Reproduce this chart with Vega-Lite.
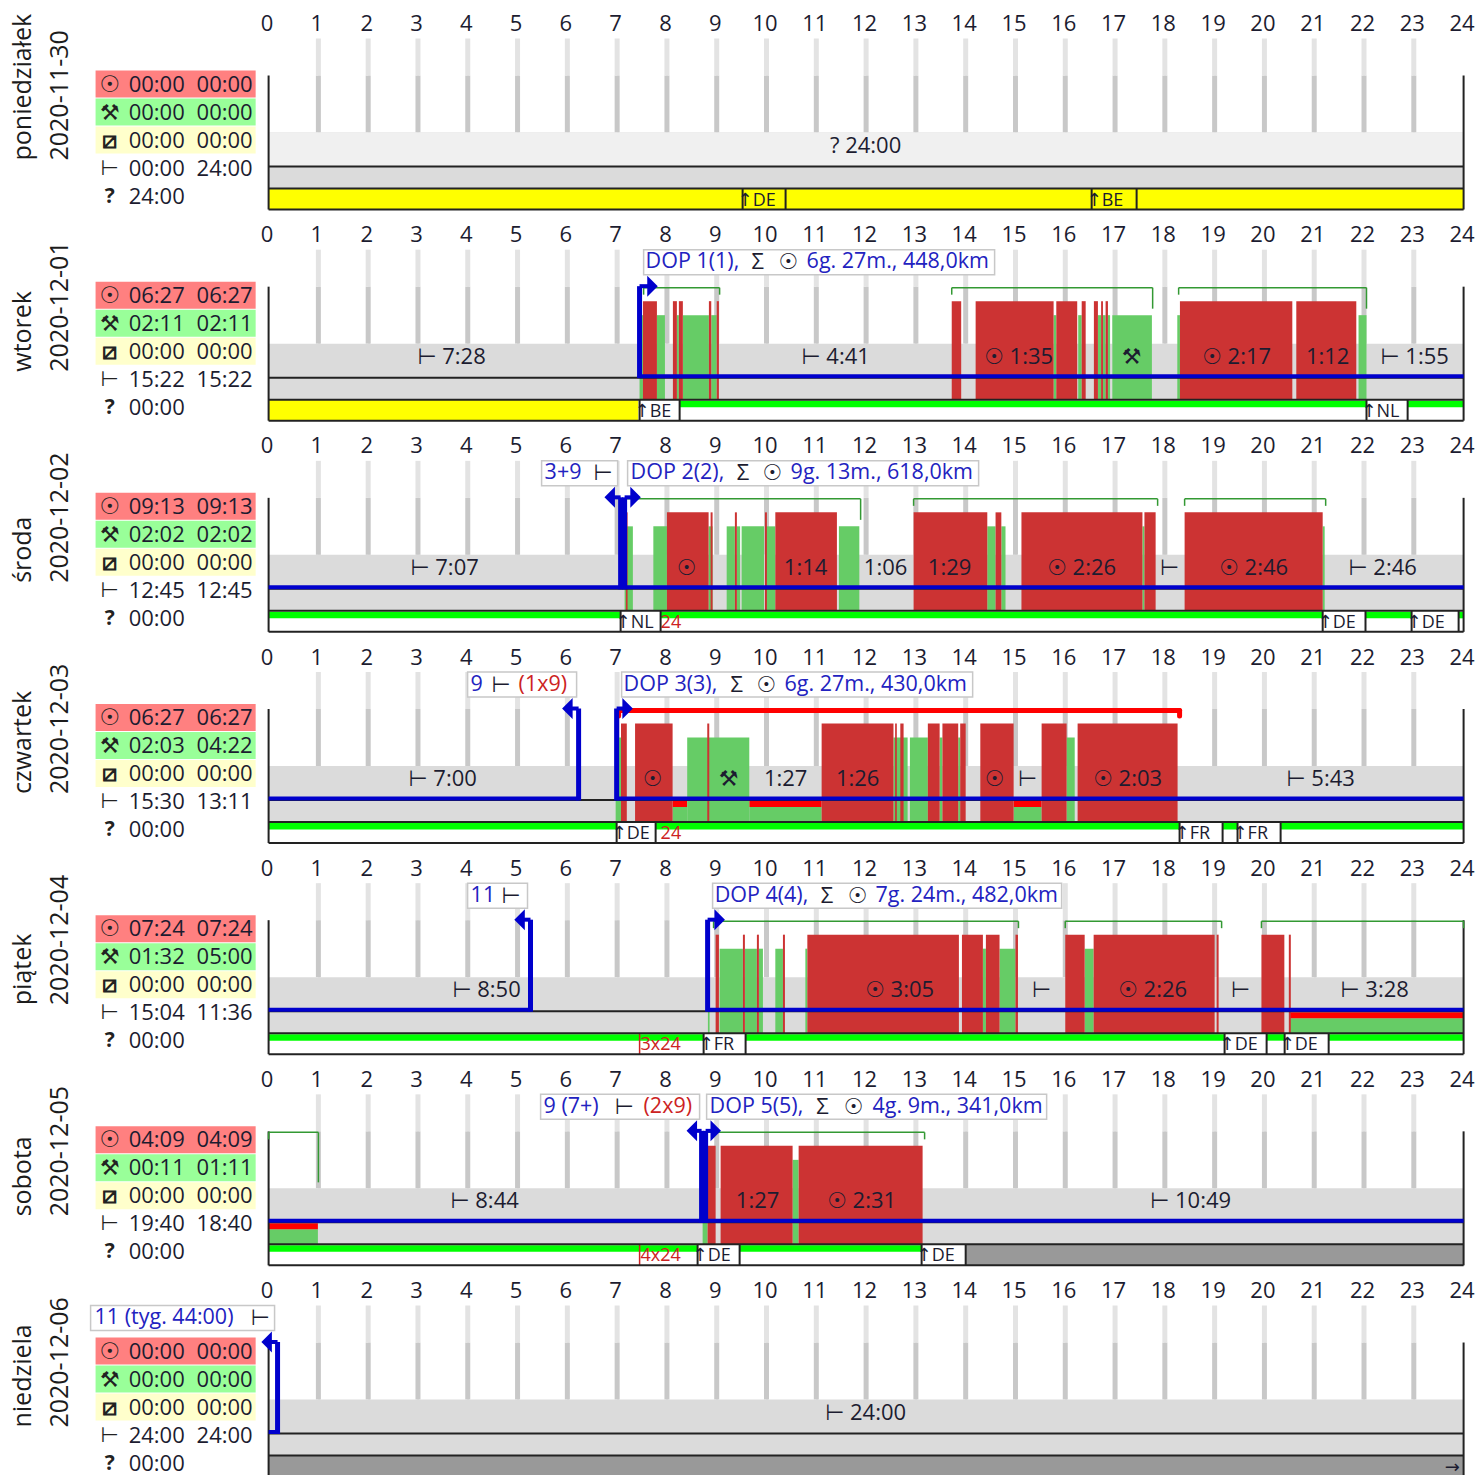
{"$schema":"https://vega.github.io/schema/vega-lite/v6.json","padding":{"left":10.6,"top":12.5,"right":0,"bottom":0},"background":"white","bounds":"flush","spacing":40.17,"facet":{"row":{"field":"day","type":"nominal","header":null}},"resolve":{"axis":{"x":"independent"}},
"config":{"view":{"stroke":null},"axisY":{"disable":true},"font":"Open Sans","text":{"font":"Open Sans, DejaVu Sans"}},
"data":{"values":[
{"day":"2020-11-30","kind":"day","name":"poniedziałek"},{"day":"2020-12-01","kind":"day","name":"wtorek"},{"day":"2020-12-02","kind":"day","name":"środa"},{"day":"2020-12-03","kind":"day","name":"czwartek"},{"day":"2020-12-04","kind":"day","name":"piątek"},{"day":"2020-12-05","kind":"day","name":"sobota"},{"day":"2020-12-06","kind":"day","name":"niedziela"},
{"day":"2020-11-30","kind":"hour","from":1},{"day":"2020-11-30","kind":"hour","from":2},{"day":"2020-11-30","kind":"hour","from":3},{"day":"2020-11-30","kind":"hour","from":4},{"day":"2020-11-30","kind":"hour","from":5},{"day":"2020-11-30","kind":"hour","from":6},{"day":"2020-11-30","kind":"hour","from":7},{"day":"2020-11-30","kind":"hour","from":8},{"day":"2020-11-30","kind":"hour","from":9},{"day":"2020-11-30","kind":"hour","from":10},{"day":"2020-11-30","kind":"hour","from":11},{"day":"2020-11-30","kind":"hour","from":12},{"day":"2020-11-30","kind":"hour","from":13},{"day":"2020-11-30","kind":"hour","from":14},{"day":"2020-11-30","kind":"hour","from":15},{"day":"2020-11-30","kind":"hour","from":16},{"day":"2020-11-30","kind":"hour","from":17},{"day":"2020-11-30","kind":"hour","from":18},{"day":"2020-11-30","kind":"hour","from":19},{"day":"2020-11-30","kind":"hour","from":20},{"day":"2020-11-30","kind":"hour","from":21},{"day":"2020-11-30","kind":"hour","from":22},{"day":"2020-11-30","kind":"hour","from":23},
{"day":"2020-12-01","kind":"hour","from":1},{"day":"2020-12-01","kind":"hour","from":2},{"day":"2020-12-01","kind":"hour","from":3},{"day":"2020-12-01","kind":"hour","from":4},{"day":"2020-12-01","kind":"hour","from":5},{"day":"2020-12-01","kind":"hour","from":6},{"day":"2020-12-01","kind":"hour","from":7},{"day":"2020-12-01","kind":"hour","from":8},{"day":"2020-12-01","kind":"hour","from":9},{"day":"2020-12-01","kind":"hour","from":10},{"day":"2020-12-01","kind":"hour","from":11},{"day":"2020-12-01","kind":"hour","from":12},{"day":"2020-12-01","kind":"hour","from":13},{"day":"2020-12-01","kind":"hour","from":14},{"day":"2020-12-01","kind":"hour","from":15},{"day":"2020-12-01","kind":"hour","from":16},{"day":"2020-12-01","kind":"hour","from":17},{"day":"2020-12-01","kind":"hour","from":18},{"day":"2020-12-01","kind":"hour","from":19},{"day":"2020-12-01","kind":"hour","from":20},{"day":"2020-12-01","kind":"hour","from":21},{"day":"2020-12-01","kind":"hour","from":22},{"day":"2020-12-01","kind":"hour","from":23},
{"day":"2020-12-02","kind":"hour","from":1},{"day":"2020-12-02","kind":"hour","from":2},{"day":"2020-12-02","kind":"hour","from":3},{"day":"2020-12-02","kind":"hour","from":4},{"day":"2020-12-02","kind":"hour","from":5},{"day":"2020-12-02","kind":"hour","from":6},{"day":"2020-12-02","kind":"hour","from":7},{"day":"2020-12-02","kind":"hour","from":8},{"day":"2020-12-02","kind":"hour","from":9},{"day":"2020-12-02","kind":"hour","from":10},{"day":"2020-12-02","kind":"hour","from":11},{"day":"2020-12-02","kind":"hour","from":12},{"day":"2020-12-02","kind":"hour","from":13},{"day":"2020-12-02","kind":"hour","from":14},{"day":"2020-12-02","kind":"hour","from":15},{"day":"2020-12-02","kind":"hour","from":16},{"day":"2020-12-02","kind":"hour","from":17},{"day":"2020-12-02","kind":"hour","from":18},{"day":"2020-12-02","kind":"hour","from":19},{"day":"2020-12-02","kind":"hour","from":20},{"day":"2020-12-02","kind":"hour","from":21},{"day":"2020-12-02","kind":"hour","from":22},{"day":"2020-12-02","kind":"hour","from":23},
{"day":"2020-12-03","kind":"hour","from":1},{"day":"2020-12-03","kind":"hour","from":2},{"day":"2020-12-03","kind":"hour","from":3},{"day":"2020-12-03","kind":"hour","from":4},{"day":"2020-12-03","kind":"hour","from":5},{"day":"2020-12-03","kind":"hour","from":6},{"day":"2020-12-03","kind":"hour","from":7},{"day":"2020-12-03","kind":"hour","from":8},{"day":"2020-12-03","kind":"hour","from":9},{"day":"2020-12-03","kind":"hour","from":10},{"day":"2020-12-03","kind":"hour","from":11},{"day":"2020-12-03","kind":"hour","from":12},{"day":"2020-12-03","kind":"hour","from":13},{"day":"2020-12-03","kind":"hour","from":14},{"day":"2020-12-03","kind":"hour","from":15},{"day":"2020-12-03","kind":"hour","from":16},{"day":"2020-12-03","kind":"hour","from":17},{"day":"2020-12-03","kind":"hour","from":18},{"day":"2020-12-03","kind":"hour","from":19},{"day":"2020-12-03","kind":"hour","from":20},{"day":"2020-12-03","kind":"hour","from":21},{"day":"2020-12-03","kind":"hour","from":22},{"day":"2020-12-03","kind":"hour","from":23},
{"day":"2020-12-04","kind":"hour","from":1},{"day":"2020-12-04","kind":"hour","from":2},{"day":"2020-12-04","kind":"hour","from":3},{"day":"2020-12-04","kind":"hour","from":4},{"day":"2020-12-04","kind":"hour","from":5},{"day":"2020-12-04","kind":"hour","from":6},{"day":"2020-12-04","kind":"hour","from":7},{"day":"2020-12-04","kind":"hour","from":8},{"day":"2020-12-04","kind":"hour","from":9},{"day":"2020-12-04","kind":"hour","from":10},{"day":"2020-12-04","kind":"hour","from":11},{"day":"2020-12-04","kind":"hour","from":12},{"day":"2020-12-04","kind":"hour","from":13},{"day":"2020-12-04","kind":"hour","from":14},{"day":"2020-12-04","kind":"hour","from":15},{"day":"2020-12-04","kind":"hour","from":16},{"day":"2020-12-04","kind":"hour","from":17},{"day":"2020-12-04","kind":"hour","from":18},{"day":"2020-12-04","kind":"hour","from":19},{"day":"2020-12-04","kind":"hour","from":20},{"day":"2020-12-04","kind":"hour","from":21},{"day":"2020-12-04","kind":"hour","from":22},{"day":"2020-12-04","kind":"hour","from":23},
{"day":"2020-12-05","kind":"hour","from":1},{"day":"2020-12-05","kind":"hour","from":2},{"day":"2020-12-05","kind":"hour","from":3},{"day":"2020-12-05","kind":"hour","from":4},{"day":"2020-12-05","kind":"hour","from":5},{"day":"2020-12-05","kind":"hour","from":6},{"day":"2020-12-05","kind":"hour","from":7},{"day":"2020-12-05","kind":"hour","from":8},{"day":"2020-12-05","kind":"hour","from":9},{"day":"2020-12-05","kind":"hour","from":10},{"day":"2020-12-05","kind":"hour","from":11},{"day":"2020-12-05","kind":"hour","from":12},{"day":"2020-12-05","kind":"hour","from":13},{"day":"2020-12-05","kind":"hour","from":14},{"day":"2020-12-05","kind":"hour","from":15},{"day":"2020-12-05","kind":"hour","from":16},{"day":"2020-12-05","kind":"hour","from":17},{"day":"2020-12-05","kind":"hour","from":18},{"day":"2020-12-05","kind":"hour","from":19},{"day":"2020-12-05","kind":"hour","from":20},{"day":"2020-12-05","kind":"hour","from":21},{"day":"2020-12-05","kind":"hour","from":22},{"day":"2020-12-05","kind":"hour","from":23},
{"day":"2020-12-06","kind":"hour","from":1},{"day":"2020-12-06","kind":"hour","from":2},{"day":"2020-12-06","kind":"hour","from":3},{"day":"2020-12-06","kind":"hour","from":4},{"day":"2020-12-06","kind":"hour","from":5},{"day":"2020-12-06","kind":"hour","from":6},{"day":"2020-12-06","kind":"hour","from":7},{"day":"2020-12-06","kind":"hour","from":8},{"day":"2020-12-06","kind":"hour","from":9},{"day":"2020-12-06","kind":"hour","from":10},{"day":"2020-12-06","kind":"hour","from":11},{"day":"2020-12-06","kind":"hour","from":12},{"day":"2020-12-06","kind":"hour","from":13},{"day":"2020-12-06","kind":"hour","from":14},{"day":"2020-12-06","kind":"hour","from":15},{"day":"2020-12-06","kind":"hour","from":16},{"day":"2020-12-06","kind":"hour","from":17},{"day":"2020-12-06","kind":"hour","from":18},{"day":"2020-12-06","kind":"hour","from":19},{"day":"2020-12-06","kind":"hour","from":20},{"day":"2020-12-06","kind":"hour","from":21},{"day":"2020-12-06","kind":"hour","from":22},{"day":"2020-12-06","kind":"hour","from":23},
{"day":"2020-11-30","kind":"stat","lane":"drive","icon":"☉","first":"00:00","second":"00:00"},{"day":"2020-11-30","kind":"stat","lane":"work","icon":"⚒","first":"00:00","second":"00:00"},{"day":"2020-11-30","kind":"stat","lane":"avail","icon":"⧄","first":"00:00","second":"00:00"},{"day":"2020-11-30","kind":"stat","lane":"rest","icon":"⊢","first":"00:00","second":"24:00"},{"day":"2020-11-30","kind":"stat","lane":"unknown","icon":"?","first":"24:00","second":""},
{"day":"2020-12-01","kind":"stat","lane":"drive","icon":"☉","first":"06:27","second":"06:27"},{"day":"2020-12-01","kind":"stat","lane":"work","icon":"⚒","first":"02:11","second":"02:11"},{"day":"2020-12-01","kind":"stat","lane":"avail","icon":"⧄","first":"00:00","second":"00:00"},{"day":"2020-12-01","kind":"stat","lane":"rest","icon":"⊢","first":"15:22","second":"15:22"},{"day":"2020-12-01","kind":"stat","lane":"unknown","icon":"?","first":"00:00","second":""},
{"day":"2020-12-02","kind":"stat","lane":"drive","icon":"☉","first":"09:13","second":"09:13"},{"day":"2020-12-02","kind":"stat","lane":"work","icon":"⚒","first":"02:02","second":"02:02"},{"day":"2020-12-02","kind":"stat","lane":"avail","icon":"⧄","first":"00:00","second":"00:00"},{"day":"2020-12-02","kind":"stat","lane":"rest","icon":"⊢","first":"12:45","second":"12:45"},{"day":"2020-12-02","kind":"stat","lane":"unknown","icon":"?","first":"00:00","second":""},
{"day":"2020-12-03","kind":"stat","lane":"drive","icon":"☉","first":"06:27","second":"06:27"},{"day":"2020-12-03","kind":"stat","lane":"work","icon":"⚒","first":"02:03","second":"04:22"},{"day":"2020-12-03","kind":"stat","lane":"avail","icon":"⧄","first":"00:00","second":"00:00"},{"day":"2020-12-03","kind":"stat","lane":"rest","icon":"⊢","first":"15:30","second":"13:11"},{"day":"2020-12-03","kind":"stat","lane":"unknown","icon":"?","first":"00:00","second":""},
{"day":"2020-12-04","kind":"stat","lane":"drive","icon":"☉","first":"07:24","second":"07:24"},{"day":"2020-12-04","kind":"stat","lane":"work","icon":"⚒","first":"01:32","second":"05:00"},{"day":"2020-12-04","kind":"stat","lane":"avail","icon":"⧄","first":"00:00","second":"00:00"},{"day":"2020-12-04","kind":"stat","lane":"rest","icon":"⊢","first":"15:04","second":"11:36"},{"day":"2020-12-04","kind":"stat","lane":"unknown","icon":"?","first":"00:00","second":""},
{"day":"2020-12-05","kind":"stat","lane":"drive","icon":"☉","first":"04:09","second":"04:09"},{"day":"2020-12-05","kind":"stat","lane":"work","icon":"⚒","first":"00:11","second":"01:11"},{"day":"2020-12-05","kind":"stat","lane":"avail","icon":"⧄","first":"00:00","second":"00:00"},{"day":"2020-12-05","kind":"stat","lane":"rest","icon":"⊢","first":"19:40","second":"18:40"},{"day":"2020-12-05","kind":"stat","lane":"unknown","icon":"?","first":"00:00","second":""},
{"day":"2020-12-06","kind":"stat","lane":"drive","icon":"☉","first":"00:00","second":"00:00"},{"day":"2020-12-06","kind":"stat","lane":"work","icon":"⚒","first":"00:00","second":"00:00"},{"day":"2020-12-06","kind":"stat","lane":"avail","icon":"⧄","first":"00:00","second":"00:00"},{"day":"2020-12-06","kind":"stat","lane":"rest","icon":"⊢","first":"24:00","second":"24:00"},{"day":"2020-12-06","kind":"stat","lane":"unknown","icon":"?","first":"00:00","second":""},

{"day":"2020-12-01","kind":"drive","from":7.518,"to":7.799},{"day":"2020-12-01","kind":"drive","from":8.12,"to":8.2},{"day":"2020-12-01","kind":"drive","from":8.24,"to":8.32},{"day":"2020-12-01","kind":"drive","from":8.843,"to":8.89},{"day":"2020-12-01","kind":"drive","from":9.0,"to":9.044},{"day":"2020-12-01","kind":"drive","from":13.72,"to":13.91},{"day":"2020-12-01","kind":"drive","from":14.2,"to":15.766},{"day":"2020-12-01","kind":"drive","from":15.82,"to":16.24},{"day":"2020-12-01","kind":"drive","from":16.33,"to":16.41},{"day":"2020-12-01","kind":"drive","from":16.575,"to":16.656},{"day":"2020-12-01","kind":"drive","from":16.72,"to":16.757},{"day":"2020-12-01","kind":"drive","from":16.81,"to":16.857},{"day":"2020-12-01","kind":"drive","from":18.303,"to":20.56},{"day":"2020-12-01","kind":"drive","from":20.64,"to":21.845},
{"day":"2020-12-01","kind":"work","from":7.45,"to":7.518},{"day":"2020-12-01","kind":"work","from":7.799,"to":7.96},{"day":"2020-12-01","kind":"work","from":8.2,"to":8.24},{"day":"2020-12-01","kind":"work","from":8.32,"to":8.843},{"day":"2020-12-01","kind":"work","from":8.89,"to":9.0},{"day":"2020-12-01","kind":"work","from":15.766,"to":15.82},{"day":"2020-12-01","kind":"work","from":16.26,"to":16.33},{"day":"2020-12-01","kind":"work","from":16.656,"to":16.72},{"day":"2020-12-01","kind":"work","from":16.757,"to":16.81},{"day":"2020-12-01","kind":"work","from":16.857,"to":16.9},{"day":"2020-12-01","kind":"work","from":16.945,"to":17.74},{"day":"2020-12-01","kind":"work","from":18.25,"to":18.303},{"day":"2020-12-01","kind":"work","from":21.89,"to":22.05},

{"day":"2020-12-02","kind":"drive","from":7.176,"to":7.21},{"day":"2020-12-02","kind":"drive","from":8.0,"to":8.837},{"day":"2020-12-02","kind":"drive","from":8.877,"to":8.917},{"day":"2020-12-02","kind":"drive","from":9.365,"to":9.405},{"day":"2020-12-02","kind":"drive","from":9.968,"to":10.008},{"day":"2020-12-02","kind":"drive","from":10.177,"to":11.414},{"day":"2020-12-02","kind":"drive","from":12.954,"to":14.434},{"day":"2020-12-02","kind":"drive","from":14.6,"to":14.716},{"day":"2020-12-02","kind":"drive","from":15.12,"to":17.55},{"day":"2020-12-02","kind":"drive","from":17.59,"to":17.815},{"day":"2020-12-02","kind":"drive","from":18.397,"to":21.17},
{"day":"2020-12-02","kind":"work","from":7.15,"to":7.316},{"day":"2020-12-02","kind":"work","from":7.727,"to":8.0},{"day":"2020-12-02","kind":"work","from":8.837,"to":8.917},{"day":"2020-12-02","kind":"work","from":9.2,"to":9.365},{"day":"2020-12-02","kind":"work","from":9.405,"to":9.47},{"day":"2020-12-02","kind":"work","from":9.5,"to":9.95},{"day":"2020-12-02","kind":"work","from":9.97,"to":10.177},{"day":"2020-12-02","kind":"work","from":11.454,"to":11.864},{"day":"2020-12-02","kind":"work","from":14.434,"to":14.6},{"day":"2020-12-02","kind":"work","from":14.716,"to":14.8},{"day":"2020-12-02","kind":"work","from":17.55,"to":17.59},{"day":"2020-12-02","kind":"work","from":21.17,"to":21.21},

{"day":"2020-12-03","kind":"drive","from":7.078,"to":7.194},{"day":"2020-12-03","kind":"drive","from":7.36,"to":8.114},{"day":"2020-12-03","kind":"drive","from":8.81,"to":8.85},{"day":"2020-12-03","kind":"drive","from":11.107,"to":12.55},{"day":"2020-12-03","kind":"drive","from":12.583,"to":12.617},{"day":"2020-12-03","kind":"drive","from":12.687,"to":12.753},{"day":"2020-12-03","kind":"drive","from":13.24,"to":13.477},{"day":"2020-12-03","kind":"drive","from":13.533,"to":13.85},{"day":"2020-12-03","kind":"drive","from":13.89,"to":14.0},{"day":"2020-12-03","kind":"drive","from":14.294,"to":14.963},{"day":"2020-12-03","kind":"drive","from":15.525,"to":16.027},{"day":"2020-12-03","kind":"drive","from":16.248,"to":18.256},
{"day":"2020-12-03","kind":"work","from":6.97,"to":7.078},{"day":"2020-12-03","kind":"work","from":8.407,"to":9.654},{"day":"2020-12-03","kind":"work","from":12.55,"to":12.834},{"day":"2020-12-03","kind":"work","from":12.88,"to":13.24},{"day":"2020-12-03","kind":"work","from":13.477,"to":13.533},{"day":"2020-12-03","kind":"work","from":13.85,"to":13.89},{"day":"2020-12-03","kind":"work","from":16.027,"to":16.19},
{"day":"2020-12-03","kind":"low","from":8.114,"to":8.407},{"day":"2020-12-03","kind":"low","from":9.654,"to":11.107},{"day":"2020-12-03","kind":"low","from":14.963,"to":15.525},

{"day":"2020-12-04","kind":"drive","from":8.978,"to":9.044},{"day":"2020-12-04","kind":"drive","from":9.526,"to":9.566},{"day":"2020-12-04","kind":"drive","from":9.807,"to":9.847},{"day":"2020-12-04","kind":"drive","from":10.33,"to":10.37},{"day":"2020-12-04","kind":"drive","from":10.82,"to":13.864},{"day":"2020-12-04","kind":"drive","from":13.925,"to":14.346},{"day":"2020-12-04","kind":"drive","from":14.406,"to":14.68},{"day":"2020-12-04","kind":"drive","from":15.0,"to":15.05},{"day":"2020-12-04","kind":"drive","from":16.0,"to":16.39},{"day":"2020-12-04","kind":"drive","from":16.57,"to":19.0},{"day":"2020-12-04","kind":"drive","from":19.04,"to":19.08},{"day":"2020-12-04","kind":"drive","from":19.94,"to":20.4},{"day":"2020-12-04","kind":"drive","from":20.49,"to":20.53},
{"day":"2020-12-04","kind":"work","from":8.823,"to":8.857},{"day":"2020-12-04","kind":"work","from":9.058,"to":9.526},{"day":"2020-12-04","kind":"work","from":9.566,"to":9.807},{"day":"2020-12-04","kind":"work","from":9.847,"to":9.928},{"day":"2020-12-04","kind":"work","from":10.177,"to":10.33},{"day":"2020-12-04","kind":"work","from":10.78,"to":10.82},{"day":"2020-12-04","kind":"work","from":14.346,"to":14.406},{"day":"2020-12-04","kind":"work","from":14.68,"to":15.0},{"day":"2020-12-04","kind":"work","from":16.39,"to":16.57},
{"day":"2020-12-04","kind":"low","from":20.5,"to":24},

{"day":"2020-12-05","kind":"drive","from":8.817,"to":8.978},{"day":"2020-12-05","kind":"drive","from":9.078,"to":10.524},{"day":"2020-12-05","kind":"drive","from":10.645,"to":13.135},
{"day":"2020-12-05","kind":"work","from":8.717,"to":8.817},{"day":"2020-12-05","kind":"work","from":10.524,"to":10.645},
{"day":"2020-12-05","kind":"low","from":0,"to":0.99},

{"day":"2020-11-30","kind":"yellow","from":0,"to":24},{"day":"2020-12-01","kind":"yellow","from":0,"to":7.43},{"day":"2020-12-01","kind":"white","from":7.43,"to":24},{"day":"2020-12-02","kind":"white","from":0,"to":24},{"day":"2020-12-03","kind":"white","from":0,"to":24},{"day":"2020-12-04","kind":"white","from":0,"to":24},{"day":"2020-12-05","kind":"white","from":0,"to":14},{"day":"2020-12-05","kind":"dark","from":14,"to":24},{"day":"2020-12-06","kind":"dark","from":0,"to":24},
{"day":"2020-12-01","kind":"strip","from":8.255,"to":22.05},{"day":"2020-12-01","kind":"strip","from":22.876,"to":24},
{"day":"2020-12-02","kind":"strip","from":0,"to":7.07},{"day":"2020-12-02","kind":"strip","from":7.873,"to":21.17},{"day":"2020-12-02","kind":"strip","from":22.03,"to":22.956},{"day":"2020-12-02","kind":"strip","from":23.9,"to":24},
{"day":"2020-12-03","kind":"strip","from":0,"to":6.99},{"day":"2020-12-03","kind":"strip","from":7.773,"to":18.296},{"day":"2020-12-03","kind":"strip","from":19.16,"to":19.46},{"day":"2020-12-03","kind":"strip","from":20.325,"to":24},
{"day":"2020-12-04","kind":"strip","from":0,"to":8.737},{"day":"2020-12-04","kind":"strip","from":9.58,"to":19.2},{"day":"2020-12-04","kind":"strip","from":20.044,"to":20.406},{"day":"2020-12-04","kind":"strip","from":21.29,"to":24},
{"day":"2020-12-05","kind":"strip","from":0,"to":8.616},{"day":"2020-12-05","kind":"strip","from":9.46,"to":13.115},

{"day":"2020-11-30","kind":"flag","from":9.52,"to":10.383,"text":"↑DE"},{"day":"2020-11-30","kind":"flag","from":16.53,"to":17.433,"text":"↑BE"},
{"day":"2020-12-01","kind":"flag","from":7.451,"to":8.255,"text":"↑BE"},{"day":"2020-12-01","kind":"flag","from":22.05,"to":22.876,"text":"↑NL"},
{"day":"2020-12-02","kind":"flag","from":7.07,"to":7.873,"text":"↑NL"},{"day":"2020-12-02","kind":"flag","from":21.17,"to":22.03,"text":"↑DE"},{"day":"2020-12-02","kind":"flag","from":22.956,"to":23.9,"text":"↑DE"},
{"day":"2020-12-03","kind":"flag","from":6.99,"to":7.773,"text":"↑DE"},{"day":"2020-12-03","kind":"flag","from":18.296,"to":19.16,"text":"↑FR"},{"day":"2020-12-03","kind":"flag","from":19.46,"to":20.325,"text":"↑FR"},
{"day":"2020-12-04","kind":"flag","from":8.737,"to":9.58,"text":"↑FR"},{"day":"2020-12-04","kind":"flag","from":19.2,"to":20.044,"text":"↑DE"},{"day":"2020-12-04","kind":"flag","from":20.406,"to":21.29,"text":"↑DE"},
{"day":"2020-12-05","kind":"flag","from":8.616,"to":9.46,"text":"↑DE"},{"day":"2020-12-05","kind":"flag","from":13.115,"to":14.0,"text":"↑DE"},
{"day":"2020-12-06","kind":"end","from":23.72,"text":"→"},
{"day":"2020-12-02","kind":"redflag","from":7.873,"text":"24"},{"day":"2020-12-03","kind":"redflag","from":7.873,"text":"24"},{"day":"2020-12-04","kind":"redflag","from":7.47,"text":"3x24"},{"day":"2020-12-05","kind":"redflag","from":7.47,"text":"4x24"},
{"day":"2020-12-04","kind":"redline","from":7.451},{"day":"2020-12-05","kind":"redline","from":7.451},

{"day":"2020-12-01","kind":"bracket","from":7.532,"to":9.058,"drop":"short"},{"day":"2020-12-01","kind":"bracket","from":13.72,"to":17.755,"drop":"long"},{"day":"2020-12-01","kind":"bracket","from":18.277,"to":22.05,"drop":"long"},
{"day":"2020-12-02","kind":"bracket","from":7.17,"to":11.89,"drop":"long"},{"day":"2020-12-02","kind":"bracket","from":12.954,"to":17.855,"drop":"short"},{"day":"2020-12-02","kind":"bracket","from":18.397,"to":21.23,"drop":"short"},
{"day":"2020-12-04","kind":"bracket","from":8.937,"to":15.06,"drop":"short"},{"day":"2020-12-04","kind":"bracket","from":16.0,"to":19.14,"drop":"short"},{"day":"2020-12-04","kind":"bracket","from":19.94,"to":24,"drop":"short"},
{"day":"2020-12-05","kind":"bracket","from":0,"to":1.0,"drop":"tall"},{"day":"2020-12-05","kind":"bracket","from":8.74,"to":13.175,"drop":"short"},
{"day":"2020-12-03","kind":"redbracket","from":7.03,"to":18.296},

{"day":"2020-12-01","kind":"box","from":7.532,"to":14.581},{"day":"2020-12-02","kind":"box","from":5.483,"to":7.01},{"day":"2020-12-02","kind":"box","from":7.21,"to":14.26},{"day":"2020-12-03","kind":"box","from":3.997,"to":6.186},{"day":"2020-12-03","kind":"box","from":7.09,"to":14.14},{"day":"2020-12-04","kind":"box","from":3.997,"to":5.2},{"day":"2020-12-04","kind":"box","from":8.917,"to":15.927},{"day":"2020-12-05","kind":"box","from":5.463,"to":8.656},{"day":"2020-12-05","kind":"box","from":8.797,"to":15.626},{"day":"2020-12-06","kind":"box","from":-3.575,"to":0.12},
{"day":"2020-12-01","kind":"top","from":7.572,"text":"DOP 1(1),","tone":"blue"},{"day":"2020-12-01","kind":"top","from":9.7,"text":"Σ","tone":"ink"},{"day":"2020-12-01","kind":"top","from":10.243,"text":"☉","tone":"ink"},{"day":"2020-12-01","kind":"top","from":10.805,"text":"6g. 27m., 448,0km","tone":"blue"},
{"day":"2020-12-02","kind":"top","from":5.543,"text":"3+9","tone":"blue"},{"day":"2020-12-02","kind":"top","from":6.527,"text":"⊢","tone":"ink"},{"day":"2020-12-02","kind":"top","from":7.27,"text":"DOP 2(2),","tone":"blue"},{"day":"2020-12-02","kind":"top","from":9.4,"text":"Σ","tone":"ink"},{"day":"2020-12-02","kind":"top","from":9.92,"text":"☉","tone":"ink"},{"day":"2020-12-02","kind":"top","from":10.484,"text":"9g. 13m., 618,0km","tone":"blue"},
{"day":"2020-12-03","kind":"top","from":4.057,"text":"9","tone":"blue"},{"day":"2020-12-03","kind":"top","from":4.479,"text":"⊢","tone":"ink"},{"day":"2020-12-03","kind":"top","from":5.02,"text":"(1x9)","tone":"red"},{"day":"2020-12-03","kind":"top","from":7.13,"text":"DOP 3(3),","tone":"blue"},{"day":"2020-12-03","kind":"top","from":9.279,"text":"Σ","tone":"ink"},{"day":"2020-12-03","kind":"top","from":9.8,"text":"☉","tone":"ink"},{"day":"2020-12-03","kind":"top","from":10.363,"text":"6g. 27m., 430,0km","tone":"blue"},
{"day":"2020-12-04","kind":"top","from":4.057,"text":"11","tone":"blue"},{"day":"2020-12-04","kind":"top","from":4.68,"text":"⊢","tone":"ink"},{"day":"2020-12-04","kind":"top","from":8.958,"text":"DOP 4(4),","tone":"blue"},{"day":"2020-12-04","kind":"top","from":11.087,"text":"Σ","tone":"ink"},{"day":"2020-12-04","kind":"top","from":11.63,"text":"☉","tone":"ink"},{"day":"2020-12-04","kind":"top","from":12.19,"text":"7g. 24m., 482,0km","tone":"blue"},
{"day":"2020-12-05","kind":"top","from":5.523,"text":"9 (7+)","tone":"blue"},{"day":"2020-12-05","kind":"top","from":6.95,"text":"⊢","tone":"ink"},{"day":"2020-12-05","kind":"top","from":7.53,"text":"(2x9)","tone":"red"},{"day":"2020-12-05","kind":"top","from":8.857,"text":"DOP 5(5),","tone":"blue"},{"day":"2020-12-05","kind":"top","from":11.0,"text":"Σ","tone":"ink"},{"day":"2020-12-05","kind":"top","from":11.55,"text":"☉","tone":"ink"},{"day":"2020-12-05","kind":"top","from":12.13,"text":"4g. 9m., 341,0km","tone":"blue"},
{"day":"2020-12-06","kind":"top","from":-3.495,"text":"11 (tyg. 44:00)","tone":"blue"},{"day":"2020-12-06","kind":"top","from":-0.36,"text":"⊢","tone":"ink"},

{"day":"2020-12-01","kind":"blue","from":7.45,"to":24},{"day":"2020-12-02","kind":"blue","from":0,"to":24},{"day":"2020-12-03","kind":"blue","from":0,"to":6.226},{"day":"2020-12-03","kind":"blue","from":6.99,"to":24},{"day":"2020-12-04","kind":"blue","from":0,"to":5.26},{"day":"2020-12-04","kind":"blue","from":8.817,"to":24},{"day":"2020-12-05","kind":"blue","from":0,"to":24},{"day":"2020-12-06","kind":"blue","from":0,"to":0.18},
{"day":"2020-12-01","kind":"arrow","from":7.45,"tip":7.71,"dir":"right"},{"day":"2020-12-02","kind":"arrow","from":7.07,"tip":6.85,"dir":"left"},{"day":"2020-12-02","kind":"arrow","from":7.15,"tip":7.37,"dir":"right"},{"day":"2020-12-03","kind":"arrow","from":6.226,"tip":6.0,"dir":"left"},{"day":"2020-12-03","kind":"arrow","from":6.99,"tip":7.21,"dir":"right"},{"day":"2020-12-04","kind":"arrow","from":5.26,"tip":5.04,"dir":"left"},{"day":"2020-12-04","kind":"arrow","from":8.817,"tip":9.06,"dir":"right"},{"day":"2020-12-05","kind":"arrow","from":8.696,"tip":8.5,"dir":"left"},{"day":"2020-12-05","kind":"arrow","from":8.777,"tip":8.98,"dir":"right"},{"day":"2020-12-06","kind":"arrow","from":0.18,"tip":-0.04,"dir":"left"},

{"day":"2020-11-30","kind":"gap","from":11.99,"text":"? 24:00"},
{"day":"2020-12-01","kind":"gap","from":3.675,"text":"⊢ 7:28"},{"day":"2020-12-01","kind":"gap","from":11.388,"text":"⊢ 4:41"},{"day":"2020-12-01","kind":"gap","from":15.063,"text":"☉ 1:35"},{"day":"2020-12-01","kind":"gap","from":17.333,"text":"⚒"},{"day":"2020-12-01","kind":"gap","from":19.442,"text":"☉ 2:17"},{"day":"2020-12-01","kind":"gap","from":21.27,"text":"1:12"},{"day":"2020-12-01","kind":"gap","from":23.017,"text":"⊢ 1:55"},
{"day":"2020-12-02","kind":"gap","from":3.535,"text":"⊢ 7:07"},{"day":"2020-12-02","kind":"gap","from":8.395,"text":"☉"},{"day":"2020-12-02","kind":"gap","from":10.785,"text":"1:14"},{"day":"2020-12-02","kind":"gap","from":12.392,"text":"1:06"},{"day":"2020-12-02","kind":"gap","from":13.677,"text":"1:29"},{"day":"2020-12-02","kind":"gap","from":16.328,"text":"☉ 2:26"},{"day":"2020-12-02","kind":"gap","from":18.096,"text":"⊢"},{"day":"2020-12-02","kind":"gap","from":19.783,"text":"☉ 2:46"},{"day":"2020-12-02","kind":"gap","from":22.374,"text":"⊢ 2:46"},
{"day":"2020-12-03","kind":"gap","from":3.495,"text":"⊢ 7:00"},{"day":"2020-12-03","kind":"gap","from":7.712,"text":"☉"},{"day":"2020-12-03","kind":"gap","from":9.239,"text":"⚒"},{"day":"2020-12-03","kind":"gap","from":10.384,"text":"1:27"},{"day":"2020-12-03","kind":"gap","from":11.83,"text":"1:26"},{"day":"2020-12-03","kind":"gap","from":14.581,"text":"☉"},{"day":"2020-12-03","kind":"gap","from":15.244,"text":"⊢"},{"day":"2020-12-03","kind":"gap","from":17.252,"text":"☉ 2:03"},{"day":"2020-12-03","kind":"gap","from":21.129,"text":"⊢ 5:43"},
{"day":"2020-12-04","kind":"gap","from":4.378,"text":"⊢ 8:50"},{"day":"2020-12-04","kind":"gap","from":12.673,"text":"☉ 3:05"},{"day":"2020-12-04","kind":"gap","from":15.525,"text":"⊢"},{"day":"2020-12-04","kind":"gap","from":17.755,"text":"☉ 2:26"},{"day":"2020-12-04","kind":"gap","from":19.522,"text":"⊢"},{"day":"2020-12-04","kind":"gap","from":22.213,"text":"⊢ 3:28"},
{"day":"2020-12-05","kind":"gap","from":4.338,"text":"⊢ 8:44"},{"day":"2020-12-05","kind":"gap","from":9.821,"text":"1:27"},{"day":"2020-12-05","kind":"gap","from":11.91,"text":"☉ 2:31"},{"day":"2020-12-05","kind":"gap","from":18.518,"text":"⊢ 10:49"},
{"day":"2020-12-06","kind":"gap","from":11.99,"text":"⊢ 24:00"}
]},
"spec":{"width":1195,"height":171,"layer":[
{"transform":[{"filter":"datum.kind=='day'"}],"mark":{"type":"rect","fill":"#fff","opacity":0.5},"encoding":{"x":{"datum":0,"type":"quantitative","scale":{"domain":[0,24],"nice":false,"zero":false},"axis":{"orient":"top","title":null,"values":[0,0.25,0.5,0.75,1,1.25,1.5,1.75,2,2.25,2.5,2.75,3,3.25,3.5,3.75,4,4.25,4.5,4.75,5,5.25,5.5,5.75,6,6.25,6.5,6.75,7,7.25,7.5,7.75,8,8.25,8.5,8.75,9,9.25,9.5,9.75,10,10.25,10.5,10.75,11,11.25,11.5,11.75,12,12.25,12.5,12.75,13,13.25,13.5,13.75,14,14.25,14.5,14.75,15,15.25,15.5,15.75,16,16.25,16.5,16.75,17,17.25,17.5,17.75,18,18.25,18.5,18.75,19,19.25,19.5,19.75,20,20.25,20.5,20.75,21,21.25,21.5,21.75,22,22.25,22.5,22.75,23,23.25,23.5,23.75,24],"grid":true,"gridColor":{"condition":{"test":"datum.value%24==0","value":"#ffffff"},"value":"#e2e2e2"},"gridWidth":2,"ticks":false,"domain":false,"labelExpr":"datum.value%1==0?datum.value:''","labelPadding":3,"labelFontSize":22,"labelFont":"Open Sans","labelColor":"#1c1c30","labelBound":false,"labelFlush":false,"labelOverlap":false,"labelOffset":-2}},"x2":{"datum":24},"y":{"datum":134,"type":"quantitative","scale":{"domain":[0,171],"nice":false,"zero":false}},"y2":{"datum":171}}},
{"transform":[{"filter":"datum.kind=='hour'"}],"mark":{"type":"rule","color":"#c8c8c8","strokeWidth":5},"encoding":{"x":{"field":"from","type":"quantitative"},"y":{"datum":134,"type":"quantitative"},"y2":{"datum":77}}},
{"transform":[{"filter":"datum.kind=='hour'"}],"mark":{"type":"rule","color":"#e3e3e3","strokeWidth":5},"encoding":{"x":{"field":"from","type":"quantitative"},"y":{"datum":171,"type":"quantitative"},"y2":{"datum":134}}},
{"transform":[{"filter":"datum.kind=='day'"}],"mark":{"type":"rect","fill":"#dbdbdb"},"encoding":{"x":{"datum":0,"type":"quantitative"},"x2":{"datum":24},"y":{"datum":77,"type":"quantitative"},"y2":{"datum":21}}},
{"transform":[{"filter":"datum.kind=='day'&&datum.day=='2020-11-30'"}],"mark":{"type":"rect","fill":"#f0f0f0"},"encoding":{"x":{"datum":0,"type":"quantitative"},"x2":{"datum":24},"y":{"datum":77,"type":"quantitative"},"y2":{"datum":43}}},
{"transform":[{"filter":"datum.kind=='low'"}],"mark":{"type":"rect","fill":"#66cc66"},"encoding":{"x":{"field":"from","type":"quantitative"},"x2":{"field":"to"},"y":{"datum":36,"type":"quantitative"},"y2":{"datum":21}}},
{"transform":[{"filter":"datum.kind=='low'"}],"mark":{"type":"rect","fill":"#ff0000"},"encoding":{"x":{"field":"from","type":"quantitative"},"x2":{"field":"to"},"y":{"datum":42,"type":"quantitative"},"y2":{"datum":36}}},
{"transform":[{"filter":"datum.kind=='work'"}],"mark":{"type":"rect","fill":"#66cc66"},"encoding":{"x":{"field":"from","type":"quantitative"},"x2":{"field":"to"},"y":{"datum":105.5,"type":"quantitative"},"y2":{"datum":21}}},
{"transform":[{"filter":"datum.kind=='drive'"}],"mark":{"type":"rect","fill":"#cc3333"},"encoding":{"x":{"field":"from","type":"quantitative"},"x2":{"field":"to"},"y":{"datum":119.5,"type":"quantitative"},"y2":{"datum":21}}},
{"transform":[{"filter":"datum.kind=='yellow'"}],"mark":{"type":"rect","fill":"#ffff00"},"encoding":{"x":{"field":"from","type":"quantitative"},"x2":{"field":"to"},"y":{"datum":21,"type":"quantitative"},"y2":{"datum":0}}},
{"transform":[{"filter":"datum.kind=='white'"}],"mark":{"type":"rect","fill":"#ffffff"},"encoding":{"x":{"field":"from","type":"quantitative"},"x2":{"field":"to"},"y":{"datum":21,"type":"quantitative"},"y2":{"datum":0}}},
{"transform":[{"filter":"datum.kind=='dark'"}],"mark":{"type":"rect","fill":"#999999"},"encoding":{"x":{"field":"from","type":"quantitative"},"x2":{"field":"to"},"y":{"datum":21,"type":"quantitative"},"y2":{"datum":0}}},
{"transform":[{"filter":"datum.kind=='strip'"}],"mark":{"type":"rect","fill":"#00ff00"},"encoding":{"x":{"field":"from","type":"quantitative"},"x2":{"field":"to"},"y":{"datum":20,"type":"quantitative"},"y2":{"datum":13.5}}},
{"transform":[{"filter":"datum.kind=='redline'"}],"mark":{"type":"rule","color":"#cc2222","strokeWidth":1.5},"encoding":{"x":{"field":"from","type":"quantitative"},"y":{"datum":21,"type":"quantitative"},"y2":{"datum":0}}},
{"transform":[{"filter":"datum.kind=='flag'"}],"mark":{"type":"rule","color":"#222","strokeWidth":2},"encoding":{"x":{"field":"from","type":"quantitative"},"y":{"datum":21,"type":"quantitative"},"y2":{"datum":0}}},
{"transform":[{"filter":"datum.kind=='flag'"}],"mark":{"type":"rule","color":"#222","strokeWidth":2},"encoding":{"x":{"field":"to","type":"quantitative"},"y":{"datum":21,"type":"quantitative"},"y2":{"datum":0}}},
{"transform":[{"filter":"datum.kind=='flag'||datum.kind=='end'"}],"mark":{"type":"text","fontSize":18,"align":"left","baseline":"middle","dx":-5,"dy":1,"color":"#1c1c30"},"encoding":{"x":{"field":"from","type":"quantitative"},"y":{"datum":10,"type":"quantitative"},"text":{"field":"text","type":"nominal"}}},
{"transform":[{"filter":"datum.kind=='redflag'"}],"mark":{"type":"text","fontSize":18,"align":"left","baseline":"middle","dx":0,"dy":1,"color":"#cc2222"},"encoding":{"x":{"field":"from","type":"quantitative"},"y":{"datum":10,"type":"quantitative"},"text":{"field":"text","type":"nominal"}}},
{"transform":[{"filter":"datum.kind=='day'"}],"mark":{"type":"rule","color":"#222","strokeWidth":2},"encoding":{"x":{"datum":0,"type":"quantitative"},"x2":{"datum":24},"y":{"datum":43,"type":"quantitative"}}},
{"transform":[{"filter":"datum.kind=='day'"}],"mark":{"type":"rule","color":"#222","strokeWidth":2},"encoding":{"x":{"datum":0,"type":"quantitative"},"x2":{"datum":24},"y":{"datum":21,"type":"quantitative"}}},
{"transform":[{"filter":"datum.kind=='day'"}],"mark":{"type":"rule","color":"#222","strokeWidth":2},"encoding":{"x":{"datum":0,"type":"quantitative"},"x2":{"datum":24},"y":{"datum":0,"type":"quantitative"}}},
{"transform":[{"filter":"datum.kind=='day'"}],"mark":{"type":"rule","color":"#222","strokeWidth":2},"encoding":{"x":{"datum":0,"type":"quantitative"},"y":{"datum":134,"type":"quantitative"},"y2":{"datum":0}}},
{"transform":[{"filter":"datum.kind=='day'"}],"mark":{"type":"rule","color":"#222","strokeWidth":2},"encoding":{"x":{"datum":24,"type":"quantitative"},"y":{"datum":134,"type":"quantitative"},"y2":{"datum":0}}},
{"transform":[{"filter":"datum.kind=='bracket'"}],"mark":{"type":"rule","color":"#339933","strokeWidth":1.5},"encoding":{"x":{"field":"from","type":"quantitative"},"x2":{"field":"to"},"y":{"datum":133,"type":"quantitative"}}},
{"transform":[{"filter":"datum.kind=='bracket'"}],"mark":{"type":"rule","color":"#339933","strokeWidth":1.5},"encoding":{"x":{"field":"from","type":"quantitative"},"y":{"datum":133,"type":"quantitative"},"y2":{"datum":126}}},
{"transform":[{"filter":"datum.kind=='bracket'&&datum.drop=='short'"}],"mark":{"type":"rule","color":"#339933","strokeWidth":1.5},"encoding":{"x":{"field":"to","type":"quantitative"},"y":{"datum":133,"type":"quantitative"},"y2":{"datum":126}}},
{"transform":[{"filter":"datum.kind=='bracket'&&datum.drop=='long'"}],"mark":{"type":"rule","color":"#339933","strokeWidth":1.5},"encoding":{"x":{"field":"to","type":"quantitative"},"y":{"datum":133,"type":"quantitative"},"y2":{"datum":112}}},
{"transform":[{"filter":"datum.kind=='bracket'&&datum.drop=='tall'"}],"mark":{"type":"rule","color":"#339933","strokeWidth":1.5},"encoding":{"x":{"field":"to","type":"quantitative"},"y":{"datum":133,"type":"quantitative"},"y2":{"datum":83}}},
{"transform":[{"filter":"datum.kind=='redbracket'"}],"mark":{"type":"rule","color":"#ff0000","strokeWidth":5,"strokeCap":"round"},"encoding":{"x":{"field":"from","type":"quantitative"},"x2":{"field":"to"},"y":{"datum":132.5,"type":"quantitative"}}},
{"transform":[{"filter":"datum.kind=='redbracket'"}],"mark":{"type":"rule","color":"#ff0000","strokeWidth":5,"strokeCap":"round"},"encoding":{"x":{"field":"from","type":"quantitative"},"y":{"datum":132.5,"type":"quantitative"},"y2":{"datum":127}}},
{"transform":[{"filter":"datum.kind=='redbracket'"}],"mark":{"type":"rule","color":"#ff0000","strokeWidth":5,"strokeCap":"round"},"encoding":{"x":{"field":"to","type":"quantitative"},"y":{"datum":132.5,"type":"quantitative"},"y2":{"datum":127}}},
{"transform":[{"filter":"datum.kind=='box'"}],"mark":{"type":"rect","fill":"#ffffff","stroke":"#c8c8c8","strokeWidth":1.5},"encoding":{"x":{"field":"from","type":"quantitative"},"x2":{"field":"to"},"y":{"datum":146,"type":"quantitative"},"y2":{"datum":171}}},
{"transform":[{"filter":"datum.kind=='top'&&datum.tone=='blue'"}],"mark":{"type":"text","fontSize":21.5,"align":"left","baseline":"middle","color":"#2222c0"},"encoding":{"x":{"field":"from","type":"quantitative"},"y":{"datum":158.5,"type":"quantitative"},"text":{"field":"text","type":"nominal"}}},
{"transform":[{"filter":"datum.kind=='top'&&datum.tone=='ink'"}],"mark":{"type":"text","fontSize":22,"align":"left","baseline":"middle","color":"#1c1c30"},"encoding":{"x":{"field":"from","type":"quantitative"},"y":{"datum":158.5,"type":"quantitative"},"text":{"field":"text","type":"nominal"}}},
{"transform":[{"filter":"datum.kind=='top'&&datum.tone=='red'"}],"mark":{"type":"text","fontSize":21.5,"align":"left","baseline":"middle","color":"#cc2222"},"encoding":{"x":{"field":"from","type":"quantitative"},"y":{"datum":158.5,"type":"quantitative"},"text":{"field":"text","type":"nominal"}}},
{"transform":[{"filter":"datum.kind=='blue'"}],"mark":{"type":"rule","color":"#0000cc","strokeWidth":4},"encoding":{"x":{"field":"from","type":"quantitative"},"x2":{"field":"to"},"y":{"datum":44.5,"type":"quantitative"}}},
{"transform":[{"filter":"datum.kind=='arrow'"}],"mark":{"type":"rule","color":"#0000cc","strokeWidth":5},"encoding":{"x":{"field":"from","type":"quantitative"},"y":{"datum":42.5,"type":"quantitative"},"y2":{"datum":134.5}}},
{"transform":[{"filter":"datum.kind=='arrow'"}],"mark":{"type":"rule","color":"#0000cc","strokeWidth":4},"encoding":{"x":{"field":"from","type":"quantitative"},"x2":{"field":"tip"},"y":{"datum":134.5,"type":"quantitative"}}},
{"transform":[{"filter":"datum.kind=='arrow'&&datum.dir=='left'"}],"mark":{"type":"point","filled":true,"color":"#0000cc","opacity":1,"size":441,"shape":"M0.5,-1L-0.5,0L0.5,1Z"},"encoding":{"x":{"field":"tip","type":"quantitative"},"y":{"datum":134.5,"type":"quantitative"}}},
{"transform":[{"filter":"datum.kind=='arrow'&&datum.dir=='right'"}],"mark":{"type":"point","filled":true,"color":"#0000cc","opacity":1,"size":441,"shape":"M-0.5,-1L0.5,0L-0.5,1Z"},"encoding":{"x":{"field":"tip","type":"quantitative"},"y":{"datum":134.5,"type":"quantitative"}}},
{"transform":[{"filter":"datum.kind=='gap'"}],"mark":{"type":"text","fontSize":22,"align":"center","baseline":"middle","color":"#1c1c30"},"encoding":{"x":{"field":"from","type":"quantitative"},"y":{"datum":64,"type":"quantitative"},"text":{"field":"text","type":"nominal"}}},
{"transform":[{"filter":"datum.kind=='stat'&&datum.lane=='drive'"}],"mark":{"type":"rect","fill":"#ff8080"},"encoding":{"x":{"datum":-3.475,"type":"quantitative"},"x2":{"datum":-0.26},"y":{"datum":139,"type":"quantitative"},"y2":{"datum":112}}},
{"transform":[{"filter":"datum.kind=='stat'&&datum.lane=='work'"}],"mark":{"type":"rect","fill":"#99ff99"},"encoding":{"x":{"datum":-3.475,"type":"quantitative"},"x2":{"datum":-0.26},"y":{"datum":111,"type":"quantitative"},"y2":{"datum":84}}},
{"transform":[{"filter":"datum.kind=='stat'&&datum.lane=='avail'"}],"mark":{"type":"rect","fill":"#ffffcc"},"encoding":{"x":{"datum":-3.475,"type":"quantitative"},"x2":{"datum":-0.26},"y":{"datum":83,"type":"quantitative"},"y2":{"datum":56}}},
{"transform":[{"filter":"datum.kind=='stat'&&datum.lane=='drive'"}],"mark":{"type":"text","fontSize":23,"align":"center","baseline":"middle","color":"#222"},"encoding":{"x":{"datum":-3.19,"type":"quantitative"},"y":{"datum":125,"type":"quantitative"},"text":{"field":"icon","type":"nominal"}}},
{"transform":[{"filter":"datum.kind=='stat'&&datum.lane=='work'"}],"mark":{"type":"text","fontSize":22,"align":"center","baseline":"middle","color":"#222"},"encoding":{"x":{"datum":-3.19,"type":"quantitative"},"y":{"datum":97,"type":"quantitative"},"text":{"field":"icon","type":"nominal"}}},
{"transform":[{"filter":"datum.kind=='stat'&&datum.lane=='avail'"}],"mark":{"type":"text","fontSize":24,"fontWeight":"bold","align":"center","baseline":"middle","color":"#222"},"encoding":{"x":{"datum":-3.19,"type":"quantitative"},"y":{"datum":69,"type":"quantitative"},"text":{"field":"icon","type":"nominal"}}},
{"transform":[{"filter":"datum.kind=='stat'&&datum.lane=='rest'"}],"mark":{"type":"text","fontSize":21,"align":"center","baseline":"middle","color":"#222"},"encoding":{"x":{"datum":-3.19,"type":"quantitative"},"y":{"datum":41,"type":"quantitative"},"text":{"field":"icon","type":"nominal"}}},
{"transform":[{"filter":"datum.kind=='stat'&&datum.lane=='unknown'"}],"mark":{"type":"text","fontSize":21,"fontWeight":"bold","align":"center","baseline":"middle","color":"#222"},"encoding":{"x":{"datum":-3.19,"type":"quantitative"},"y":{"datum":13,"type":"quantitative"},"text":{"field":"icon","type":"nominal"}}},
{"transform":[{"filter":"datum.kind=='stat'&&datum.lane=='drive'"}],"mark":{"type":"text","fontSize":22,"align":"left","baseline":"middle","color":"#1c1c30"},"encoding":{"x":{"datum":-2.81,"type":"quantitative"},"y":{"datum":125,"type":"quantitative"},"text":{"field":"first","type":"nominal"}}},
{"transform":[{"filter":"datum.kind=='stat'&&datum.lane=='work'"}],"mark":{"type":"text","fontSize":22,"align":"left","baseline":"middle","color":"#1c1c30"},"encoding":{"x":{"datum":-2.81,"type":"quantitative"},"y":{"datum":97,"type":"quantitative"},"text":{"field":"first","type":"nominal"}}},
{"transform":[{"filter":"datum.kind=='stat'&&datum.lane=='avail'"}],"mark":{"type":"text","fontSize":22,"align":"left","baseline":"middle","color":"#1c1c30"},"encoding":{"x":{"datum":-2.81,"type":"quantitative"},"y":{"datum":69,"type":"quantitative"},"text":{"field":"first","type":"nominal"}}},
{"transform":[{"filter":"datum.kind=='stat'&&datum.lane=='rest'"}],"mark":{"type":"text","fontSize":22,"align":"left","baseline":"middle","color":"#1c1c30"},"encoding":{"x":{"datum":-2.81,"type":"quantitative"},"y":{"datum":41,"type":"quantitative"},"text":{"field":"first","type":"nominal"}}},
{"transform":[{"filter":"datum.kind=='stat'&&datum.lane=='unknown'"}],"mark":{"type":"text","fontSize":22,"align":"left","baseline":"middle","color":"#1c1c30"},"encoding":{"x":{"datum":-2.81,"type":"quantitative"},"y":{"datum":13,"type":"quantitative"},"text":{"field":"first","type":"nominal"}}},
{"transform":[{"filter":"datum.kind=='stat'&&datum.lane=='drive'"}],"mark":{"type":"text","fontSize":22,"align":"left","baseline":"middle","color":"#1c1c30"},"encoding":{"x":{"datum":-1.446,"type":"quantitative"},"y":{"datum":125,"type":"quantitative"},"text":{"field":"second","type":"nominal"}}},
{"transform":[{"filter":"datum.kind=='stat'&&datum.lane=='work'"}],"mark":{"type":"text","fontSize":22,"align":"left","baseline":"middle","color":"#1c1c30"},"encoding":{"x":{"datum":-1.446,"type":"quantitative"},"y":{"datum":97,"type":"quantitative"},"text":{"field":"second","type":"nominal"}}},
{"transform":[{"filter":"datum.kind=='stat'&&datum.lane=='avail'"}],"mark":{"type":"text","fontSize":22,"align":"left","baseline":"middle","color":"#1c1c30"},"encoding":{"x":{"datum":-1.446,"type":"quantitative"},"y":{"datum":69,"type":"quantitative"},"text":{"field":"second","type":"nominal"}}},
{"transform":[{"filter":"datum.kind=='stat'&&datum.lane=='rest'"}],"mark":{"type":"text","fontSize":22,"align":"left","baseline":"middle","color":"#1c1c30"},"encoding":{"x":{"datum":-1.446,"type":"quantitative"},"y":{"datum":41,"type":"quantitative"},"text":{"field":"second","type":"nominal"}}},
{"transform":[{"filter":"datum.kind=='day'"}],"mark":{"type":"text","fontSize":25,"angle":270,"align":"left","baseline":"middle","color":"#1c1c1c"},"encoding":{"x":{"datum":-4.94,"type":"quantitative"},"y":{"datum":49,"type":"quantitative"},"text":{"field":"name","type":"nominal"}}},
{"transform":[{"filter":"datum.kind=='day'"}],"mark":{"type":"text","fontSize":25,"angle":270,"align":"left","baseline":"middle","color":"#1c1c1c"},"encoding":{"x":{"datum":-4.18,"type":"quantitative"},"y":{"datum":49,"type":"quantitative"},"text":{"field":"day","type":"nominal"}}}
]}}
